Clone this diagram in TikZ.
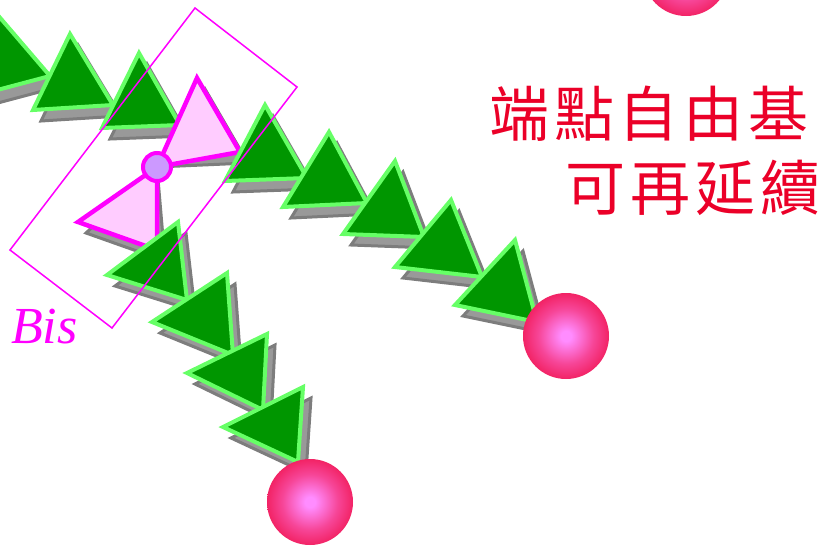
\documentclass[tikz,border=0pt]{standalone}
\usepackage{fontspec}
\setmainfont{Liberation Serif}
\newfontfamily\cjkfont[LetterSpace=8]{Noto Sans CJK TC}

\definecolor{chaingreen}{RGB}{0,150,0}
\definecolor{chainedge}{RGB}{102,255,102}
\definecolor{shadowfill}{RGB}{153,153,153}
\definecolor{shadowedge}{RGB}{125,125,125}
\definecolor{bispink}{RGB}{255,204,255}
\definecolor{bismagenta}{RGB}{255,0,255}
\definecolor{bislilac}{RGB}{204,153,255}
\definecolor{ballcore}{RGB}{255,140,255}
\definecolor{ballrim}{RGB}{238,0,50}
\definecolor{labelred}{RGB}{235,0,40}

% glossy end-group sphere
\pgfdeclareradialshading{sphereball}{\pgfpoint{0bp}{0bp}}{%
  color(0bp)=(ballcore); color(3bp)=(ballcore);
  color(16bp)=(ballcore!50!ballrim); color(34bp)=(ballrim);
  color(50bp)=(ballrim)}

\tikzset{
  shadowtri/.style={fill=shadowfill, draw=shadowedge, line width=3pt, line join=miter},
  greentri/.style={fill=chaingreen, draw=chainedge, line width=4pt, line join=miter},
  pinktri/.style={fill=bispink, draw=bismagenta, line width=4.5pt, line join=miter},
  centreatom/.style={fill=bislilac, draw=bismagenta, line width=4pt},
  endball/.style={shading=sphereball},
  bisframe/.style={draw=bismagenta, line width=1.5pt},
  redlabel/.style={text=labelred, font=\cjkfont\fontsize{60}{66}\selectfont, inner sep=0pt},
  bislabel/.style={text=bismagenta, font=\itshape\fontsize{52}{58}\selectfont, inner sep=0pt}
}

% one monomer unit: a dropped shadow, then the triangle itself
\newcommand\linktri[4][greentri]{%
  \path[shadowtri, shift={(8,11)}] #2 -- #3 -- #4 -- cycle;
  \path[#1] #2 -- #3 -- #4 -- cycle;
}

\begin{document}
\begin{tikzpicture}[x=1pt, y=-1pt]
\useasboundingbox (0,0) rectangle (822,546);
\clip (0,0) rectangle (822,546);

% upper chain, first part
\linktri{(-4,13)}{(-29,97)}{(50,76)}
\linktri{(70,34)}{(33,110)}{(113,105)}
\linktri{(139,53)}{(102,128)}{(180,125)}

% bis-initiator: two pink units joined at the central atom
\coordinate (core) at (157,167);
\linktri[pinktri]{(core)}{(78,222)}{(157,250)}
\linktri[pinktri]{(core)}{(197,78)}{(240,152)}
\path[centreatom] (core) circle (14);

% upper chain, continued
\linktri{(265,105)}{(225,181)}{(307,178)}
\linktri{(329,132)}{(283,207)}{(367,203)}
\linktri{(395,161)}{(343,234)}{(424,237)}
\linktri{(451,200)}{(395,267)}{(482,277)}
\linktri{(515,240)}{(455,305)}{(537,322)}

% lower chain
\linktri{(178,222)}{(107,275)}{(187,300)}
\linktri{(227,273)}{(152,322)}{(233,355)}
\linktri{(267,334)}{(187,373)}{(263,410)}
\linktri{(303,387)}{(223,427)}{(298,462)}

% radical chain ends
\path[endball] (566,336) circle (43);
\path[endball] (310,502) circle (43);
\path[endball] (686,-27) circle (43);

% frame around the bis unit
\coordinate (f1) at (195,8);
\coordinate (f2) at (297,87);
\coordinate (f3) at (112,328);
\coordinate (f4) at (10,250);
\path[bisframe] (f1) -- (f2) -- (f3) -- (f4) -- cycle;

\node[bislabel, anchor=base west] (bis) at (11,343) {Bis};

\node[redlabel] (line1) at (649,114) {端點自由基};
\node[redlabel] (line2) at (693,188) {可再延續};
\end{tikzpicture}
\end{document}
